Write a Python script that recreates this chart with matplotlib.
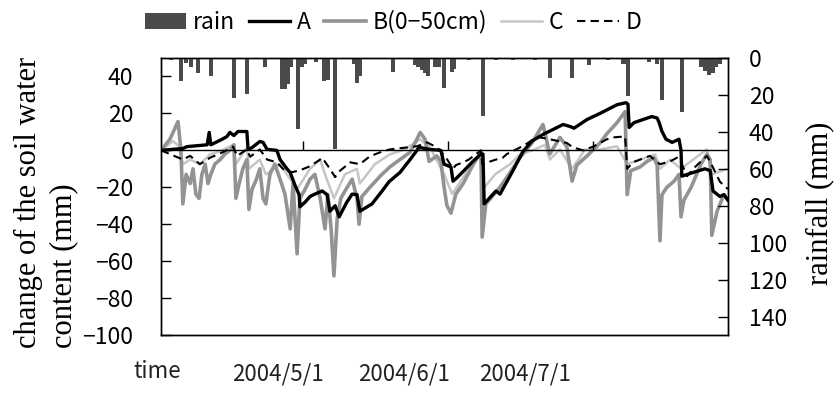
import numpy as np
import pandas as pd
import matplotlib
matplotlib.use("Agg")
import matplotlib.pyplot as plt
from matplotlib.patches import Patch
from matplotlib.lines import Line2D

# x axis is "days since 2004/4/2"
start = pd.Timestamp("2004-04-02")
date_ticks = ["2004-05-01", "2004-06-01", "2004-07-01"]
date_tick_labels = ["2004/5/1", "2004/6/1", "2004/7/1"]
zero_axis_ticks = [35.1, 70.9, 106.7]

# daily rainfall (mm), hanging from the top on the right axis
rain_day = [2.5, 4.9, 6.2, 7.4, 9.1, 12.3, 18.0, 21.2, 25.7, 29.9, 30.6, 31.4, 32.1, 33.8,
            34.8, 35.6, 38.3, 40.2, 41.2, 43.0, 47.7, 48.4, 49.1, 57.3, 62.7, 63.5, 64.4,
            65.2, 65.9, 67.7, 68.6, 69.9, 71.9, 72.3, 76.0, 79.5, 82.7, 86.9, 92.3, 96.0,
            101.5, 105.7, 110.4, 114.1, 114.8, 115.3, 120.5, 122.5, 123.7, 128.6, 133.3,
            134.3, 135.3, 136.3, 137.0, 138.0]
rain_mm = [1, 12.7, 2.7, 4.7, 8, 9.5, 21.5, 19.5, 4.7, 17, 17, 14, 5, 38.7, 4.7, 3, 2,
           12.4, 12, 49.5, 3, 13.4, 10, 7.4, 3.8, 5, 6.5, 8, 10, 4.7, 4.7, 16, 7.4, 6, 1,
           31.5, 1, 1, 1, 10.6, 10.6, 3.8, 1, 3, 3, 20.8, 2, 3, 23, 29, 5, 7, 9, 8, 5, 3]

a_day = [0, 5.4, 6.4, 11.4, 11.9, 12.3, 15.1, 16.3, 17.0, 18.0, 19.0, 21.2, 21.5, 22.5,
         24.4, 25.2, 26.2, 28.6, 29.4, 31.1, 31.9, 33.1, 34.1, 34.3, 35.6, 36.8, 38.0,
         39.8, 41.0, 41.7, 43.0, 44.0, 44.7, 45.9, 47.2, 48.4, 49.1, 52.1, 54.6, 56.3,
         59.0, 61.5, 63.2, 63.7, 66.4, 69.1, 69.9, 71.6, 72.1, 73.0, 74.8, 77.0, 79.0,
         79.5, 79.8, 82.7, 83.7, 86.9, 89.4, 91.6, 94.3, 96.8, 99.3, 101.0, 102.0, 105.2,
         108.4, 112.6, 114.8, 115.3, 115.6, 116.8, 121.2, 122.5, 123.0, 123.7, 124.7,
         126.2, 127.9, 128.4, 128.6, 131.4, 134.3, 135.6, 136.3, 138.0, 139.0, 140.0]
a_val = [0, 1, 2, 3, 9.7, 3, 6, 7.5, 9.7, 8, 10.2, 10.2, 0.5, 1.5, 4.8, 4.3, 0.5, 0, -5,
         -10, -12, -19, -24, -30.6, -28, -25, -23.7, -22, -24, -33, -30, -36, -33, -28,
         -23.7, -24, -33, -29, -22, -17, -12, -5, 0, 1.6, 0.5, 0, -7.5, -9, -16.7, -15,
         -11, -6, -2, -2, -29, -22, -23.7, -11, -0.5, 5, 8.6, 11.3, 14, 12.9, 12, 16.7,
         20, 24.7, 25.8, 25, 12.4, 15, 18.3, 17.5, 15, 10.2, 6, 4.3, 6, 0, -14, -12, -10,
         -11, -22, -25, -24, -27]

b_day = [0, 2.2, 4.2, 4.9, 5.4, 6.2, 7.2, 7.9, 8.6, 9.4, 10.1, 10.9, 11.6, 12.3, 13.3,
         14.6, 15.8, 17.0, 18.0, 18.5, 19.3, 20.2, 21.2, 21.7, 22.5, 23.5, 24.4, 25.2,
         25.9, 26.9, 28.1, 29.4, 30.6, 31.9, 32.6, 33.6, 34.3, 35.6, 36.8, 38.0, 39.3,
         40.5, 41.2, 42.0, 42.7, 43.5, 44.4, 45.7, 47.2, 48.4, 48.9, 49.6, 51.6, 54.1,
         56.5, 59.0, 61.5, 62.7, 64.0, 65.2, 66.2, 68.1, 69.1, 69.9, 70.6, 71.6, 72.8,
         74.6, 77.0, 79.0, 79.3, 80.2, 83.7, 86.2, 88.6, 91.6, 94.3, 96.0, 98.5, 100.2,
         101.5, 102.7, 105.2, 108.4, 110.1, 112.6, 114.6, 115.1, 116.0, 118.3, 120.0,
         121.7, 122.5, 123.2, 123.7, 124.9, 126.7, 127.9, 128.4, 129.1, 130.9, 133.3,
         134.8, 135.6, 136.0, 137.3, 139.0, 140.0]
b_val = [0, 6, 15.6, 0.5, -29, -13, -18, -10, -23.7, -26, -13, -7.5, -18, -13, -7.5, -5,
         -2, 0, 3, -26, -18, -10, -5, -32, -21, -16, -10, -26, -29, -13, -7.5, -15.6,
         -23.7, -42.5, -18, -56, -26, -21, -15.6, -13, -26, -42.5, -24, -42.5, -68, -37,
         -26, -21, -15.6, -26, -40, -25, -20, -14, -9, -5, -1, 4, 9.7, 6, -6, -3, -6,
         -20, -30, -34, -23.7, -18, -8, -1, -47, -29, -20, -12, -4, 4, 14, -2, 7, 2,
         -16.7, -8, -3, 4, 9, 15, 21, -24, -11, -9, -6, -4, -8, -49, -24, -20, -16.7,
         -13, -36, -27, -20, -7.5, -2, -5, -46, -33, -24, -27]

c_day = [0, 3.0, 4.5, 5.4, 7.2, 9.6, 12.1, 14.6, 17.8, 18.5, 21.2, 21.7, 24.4, 25.9,
         29.4, 31.9, 33.6, 36.8, 39.3, 40.5, 42.7, 45.4, 48.4, 49.1, 52.8, 56.5, 60.2,
         64.0, 66.4, 69.9, 71.9, 75.1, 78.8, 79.5, 82.5, 86.2, 88.6, 92.3, 94.8, 96.0,
         98.5, 101.5, 104.7, 108.4, 112.6, 115.1, 118.3, 122.0, 123.2, 125.7, 128.4,
         133.1, 134.8, 136.0, 140.0]
c_val = [0, 5, 2, -7.5, -5, -7.5, -2.2, -0.5, 3, -7.5, 1.6, -10, -5, -13, -7.5, -15.6,
         -21, -10, -5, -13, -26, -13, -10, -18, -7.5, -2.2, 0.5, 6, 1.6, -13, -23.7, -13,
         -2.2, -21, -13, -7.5, -2.2, 0.5, 3, -5, 0.5, -10, 0.5, 0.5, 2.2, -7.5, -5, -2.2,
         -10, -5, -10, -2.2, 0.5, -13, -10]

d_day = [0, 5.4, 7.2, 9.6, 12.1, 15.3, 17.8, 18.8, 21.2, 22.0, 24.4, 26.2, 28.6, 30.1,
         31.9, 34.1, 36.8, 39.3, 39.8, 41.7, 43.0, 43.7, 46.7, 49.1, 51.6, 54.8, 56.5,
         63.2, 65.7, 68.1, 69.1, 70.4, 72.1, 72.8, 74.6, 76.0, 77.8, 79.0, 79.3, 82.7,
         84.4, 85.4, 88.6, 90.6, 91.9, 93.6, 96.0, 100.2, 101.7, 104.2, 106.7, 110.1,
         111.6, 114.6, 115.1, 116.5, 118.3, 120.7, 123.2, 125.7, 127.4, 128.1, 129.9,
         131.4, 133.8, 134.8, 136.0, 138.0, 140.0]
d_val = [0, -5, -3, -7.5, -4, -1, 2, -3, 0.5, -3.5, 0.5, -5, -6.5, -10, -12, -11, -8.6,
         -5, -4, -10, -14.5, -12, -6.5, -7.5, -3.2, -0.5, 0.5, 2.2, 4.3, 1.6, -0.5, -4,
         -10, -8, -6.5, -5, -2, 0, -7.5, -5, -4, -2, 1.5, 4, 6, 7, 6, 4, 1.6, 0, 2, 6, 7,
         7.5, -10, -6.5, -5, -3, -7.5, -6, -4, -5, -14, -10, -5, -3, -8, -17, -21]

serif = "Liberation Serif"
sans = ["Noto Sans CJK JP", "DejaVu Sans"]
plt.rcParams["font.family"] = sans

rain_color = "#4a4a4a"
b_color = "#939393"
c_color = "#c6c6c6"


def main():
    fig = plt.figure(figsize=(8.36, 4.05), dpi=100)
    ax = fig.add_axes([161 / 836, 1 - 335 / 405, 567 / 836, 277 / 405])
    ax2 = ax.twinx()

    ax.plot(c_day, c_val, color=c_color, lw=1.8, zorder=2)
    ax.plot(b_day, b_val, color=b_color, lw=2.6, zorder=3)
    ax.plot(d_day, d_val, color="black", lw=1.5, ls=(0, (4, 2.5)), zorder=4)
    ax.plot(a_day, a_val, color="black", lw=2.4, zorder=5)
    ax.axhline(0, color="black", lw=1.0, zorder=6)
    ax.vlines(zero_axis_ticks, 0, 5.2, color="black", lw=1.0, zorder=6)

    ax2.bar(rain_day, rain_mm, width=1.0, color=rain_color, align="center")

    ax.set_xlim(0, 140)
    ax.set_ylim(-100, 50)
    ax.set_yticks(np.arange(-100, 41, 20))
    ax2.set_ylim(150, 0)
    ax2.set_yticks(np.arange(0, 141, 20))

    tick_pos = [(pd.Timestamp(d) - start).days for d in date_ticks]
    ax.set_xticks(tick_pos)
    ax.set_xticklabels(date_tick_labels)
    ax.tick_params(axis="x", length=0, pad=20, labelsize=16, colors="#222222")
    ax.tick_params(axis="y", direction="in", length=7, width=1, labelsize=16.5, pad=20)
    ax2.tick_params(axis="y", direction="in", length=7, width=1, labelsize=16.5, pad=15)
    for a in (ax, ax2):
        for s in a.spines.values():
            s.set_linewidth(1.0)

    fig.text(157 / 836, 1 - 372 / 405, "time", ha="center", va="center", fontsize=16,
             color="#222222")
    fig.text(46 / 836, 1 - 348 / 405, "change of the soil water\ncontent (mm)",
             rotation=90, ha="center", va="bottom", multialignment="left",
             family=serif, fontsize=22, linespacing=1.3)
    fig.text(820 / 836, 1 - 203 / 405, "rainfall (mm)", rotation=90, ha="center",
             va="center", family=serif, fontsize=22)

    handles = [Patch(facecolor=rain_color),
               Line2D([], [], color="black", lw=2.4),
               Line2D([], [], color=b_color, lw=2.6),
               Line2D([], [], color=c_color, lw=1.8),
               Line2D([], [], color="black", lw=1.5, ls=(0, (4, 2.5)))]
    labels = ["rain", "A", "B(0\u221250cm)", "C", "D"]
    fig.legend(handles, labels, loc="center", bbox_to_anchor=(393 / 836, 1 - 22 / 405),
               ncol=5, frameon=False, fontsize=16.5, handlelength=1.8, handleheight=0.7,
               handletextpad=0.3, columnspacing=0.6)

    fig.savefig("out.png", dpi=100)


if __name__ == "__main__":
    main()
